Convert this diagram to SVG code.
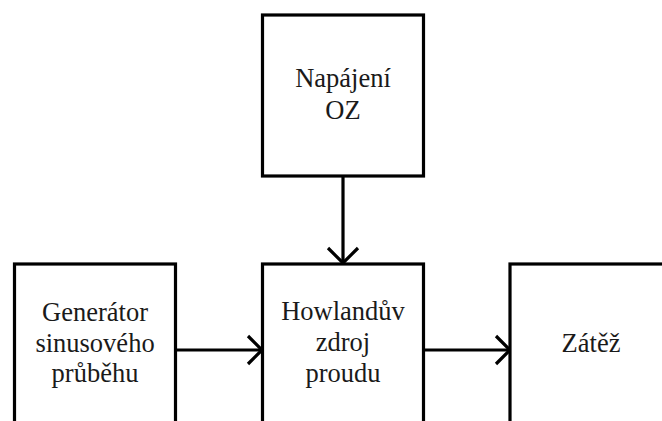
<svg xmlns="http://www.w3.org/2000/svg" width="662" height="421" viewBox="0 0 662 421">
<style>
.box{fill:#fff;stroke:#000;stroke-width:3.2}
.t{font-family:"Liberation Serif","Times New Roman",serif;font-size:26.5px;fill:#1a1a1a;text-anchor:middle}
.c{fill:none;stroke:#000;stroke-width:3.2}
</style>
<rect width="662" height="421" fill="#fff"/>
<g id="connectors">
<line class="c" x1="343" y1="176" x2="343" y2="262"/>
<polyline class="c" points="328,248 343,263 358,248"/>
<line class="c" x1="176" y1="350" x2="261" y2="350"/>
<polyline class="c" points="248,336 262,350 248,364"/>
<line class="c" x1="423" y1="350" x2="509" y2="350"/>
<polyline class="c" points="496,336 510,350 496,364"/>
</g>
<g id="napajeni">
<rect class="box" x="262.5" y="15" width="161" height="161"/>
<text class="t" x="343" y="87">Napájení</text>
<text class="t" x="343" y="119">OZ</text>
</g>
<g id="generator">
<rect class="box" x="14.5" y="264" width="161" height="200"/>
<text class="t" x="95" y="321">Generátor</text>
<text class="t" x="95" y="352">sinusového</text>
<text class="t" x="95" y="382">průběhu</text>
</g>
<g id="howland">
<rect class="box" x="262.5" y="264" width="161" height="200"/>
<text class="t" x="343" y="320">Howlandův</text>
<text class="t" x="343" y="351">zdroj</text>
<text class="t" x="343" y="382">proudu</text>
</g>
<g id="zatez">
<rect class="box" x="510" y="264" width="200" height="200"/>
<text class="t" x="591" y="352">Zátěž</text>
</g>
</svg>
